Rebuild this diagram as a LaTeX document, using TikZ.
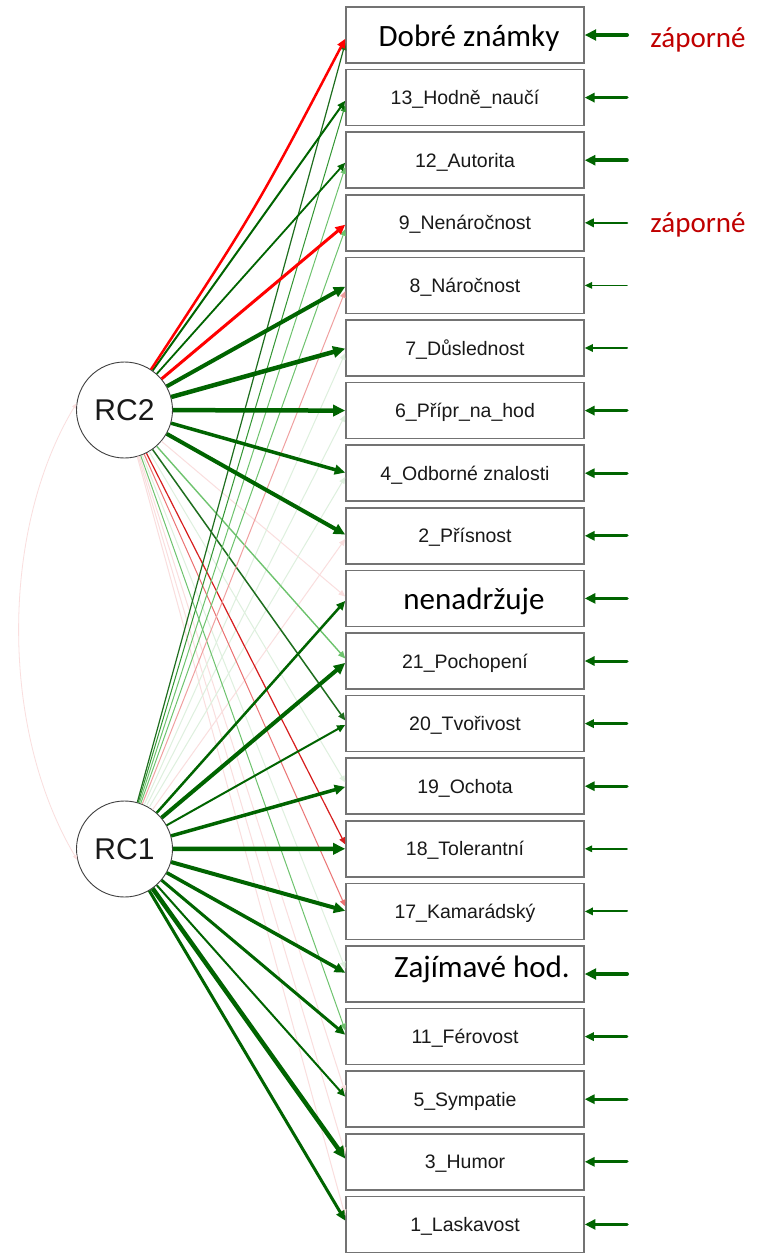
\documentclass[tikz,border=0pt]{standalone}
\usepackage{fontspec}
\newfontfamily\arialf{Liberation Sans}
\newfontfamily\calib{Carlito}
\usetikzlibrary{arrows.meta,calc}
\definecolor{dg}{RGB}{0,100,0}
\definecolor{zred}{RGB}{192,0,0}
\definecolor{pinkfaint}{RGB}{250,222,222}
\definecolor{greenfaint}{RGB}{222,240,222}
\definecolor{lightgreen}{RGB}{110,195,110}
\definecolor{midgreen}{RGB}{50,150,50}
\definecolor{darkmid}{RGB}{30,110,30}
\definecolor{redA}{RGB}{215,30,30}
\definecolor{redB}{RGB}{235,115,115}
\definecolor{pinkB}{RGB}{240,160,160}
\newcommand\ld[4]{%
  \path ($(b#2.west)!0.01!(#1)$) coordinate (t-#1-#2);
  \draw[load, line width=#3pt, draw=#4] (#1) -- (t-#1-#2 -| b#2.west);}
\begin{document}
\begin{tikzpicture}[x=1pt,y=-1pt,
  box/.style={draw=black!55, line width=1.5pt, fill=white, rectangle,
    minimum width=238pt, minimum height=56pt, inner sep=0pt,
    text height=14pt, text depth=0pt,
    font=\arialf\fontsize{19.5}{20}\selectfont, text=black!90},
  fac/.style={draw=black!75, line width=0.9pt, fill=white, circle,
    minimum size=96pt, inner sep=0pt,
    font=\arialf\fontsize{30}{32}\selectfont, text=black!90},
  big/.style={font=\calib\fontsize{31}{33}\selectfont, anchor=base, inner sep=0pt},
  neg/.style={font=\calib\fontsize{29}{31}\selectfont, anchor=base, inner sep=0pt, text=zred},
  load/.style={-{Triangle[length=5pt 1.6,width=4pt 1.6]}},
  resid/.style={draw=dg, line cap=round, -{Triangle[length=5pt 1.6,width=4pt 1.7]}},
]
\useasboundingbox (0,0) rectangle (769,1253);
\fill[white] (0,0) rectangle (769,1253);

% item boxes
\foreach \i/\t in {1/{},2/13\_Hodně\_naučí,3/12\_Autorita,4/9\_Nenáročnost,
  5/8\_Náročnost,6/7\_Důslednost,7/6\_Přípr\_na\_hod,8/4\_Odborné znalosti,
  9/2\_Přísnost,10/{},11/21\_Pochopení,12/20\_Tvořivost,13/19\_Ochota,
  14/18\_Tolerantní,15/17\_Kamarádský,16/{},17/11\_Férovost,18/5\_Sympatie,
  19/3\_Humor,20/1\_Laskavost}{
  \pgfmathsetmacro\yy{35+62.6*(\i-1)}
  \node[box] (b\i) at (465,\yy) {\t};
}
\node[big] (lab1) at (469,46) {Dobré známky};
\node[big] (lab10) at (474,609) {nenadržuje};
\node[big] (lab16) at (482,977) {Zajímavé hod.};

% factors
\node[fac] (rc2) at (124.5,410) {RC2};
\node[fac] (rc1) at (124.5,849) {RC1};

% factor correlation
\draw[pinkfaint, line width=0.8pt, {Triangle[length=5pt,width=4pt]}-{Triangle[length=5pt,width=4pt]}]
  (rc2.172) .. controls (0,530) and (0,730) .. (rc1.193);

% faint loadings
\ld{rc2}{10}{1}{pinkfaint}
\ld{rc2}{13}{1}{greenfaint}
\ld{rc2}{16}{1}{greenfaint}
\ld{rc2}{18}{1}{pinkfaint}
\ld{rc2}{19}{1}{pinkfaint}
\ld{rc2}{20}{1}{pinkfaint}
\ld{rc1}{6}{1}{greenfaint}
\ld{rc1}{7}{1}{greenfaint}
\ld{rc1}{8}{1}{greenfaint}
\ld{rc1}{9}{1}{pinkfaint}
% medium loadings
\ld{rc2}{11}{1.4}{lightgreen}
\ld{rc2}{17}{1}{lightgreen}
\ld{rc2}{15}{1}{redB}
\ld{rc2}{14}{1.2}{redA}
\ld{rc2}{12}{1.5}{darkmid}
\ld{rc1}{5}{1}{pinkB}
\ld{rc1}{4}{1}{lightgreen}
\ld{rc1}{3}{1}{lightgreen}
\ld{rc1}{2}{1}{midgreen}
\ld{rc1}{1}{1.2}{darkmid}
% strong loadings
\ld{rc2}{2}{2}{dg}
\ld{rc2}{3}{1.8}{dg}
\ld{rc2}{4}{3}{red}
\ld{rc2}{5}{4}{dg}
\ld{rc2}{6}{4.5}{dg}
\ld{rc2}{7}{4.5}{dg}
\ld{rc2}{8}{3.5}{dg}
\ld{rc2}{9}{4}{dg}
\path ($(b1.west)!0.01!(rc2)$) coordinate (t-rc2-1);
\draw[load, line width=2.5pt, draw=red] (rc2) .. controls (256,209) .. (t-rc2-1 -| b1.west);
\ld{rc1}{10}{2.5}{dg}
\ld{rc1}{11}{4}{dg}
\ld{rc1}{12}{2}{dg}
\ld{rc1}{13}{3.5}{dg}
\ld{rc1}{14}{4.5}{dg}
\ld{rc1}{15}{4}{dg}
\ld{rc1}{16}{3.5}{dg}
\ld{rc1}{17}{3}{dg}
\ld{rc1}{18}{2}{dg}
\ld{rc1}{19}{4.5}{dg}
\ld{rc1}{20}{3}{dg}

% residual arrows
\foreach \i/\w in {1/4,2/3,3/3.5,4/2.5,5/1.5,6/2,7/3,8/3,9/3,10/3.5,
  11/3,12/2.5,13/3,14/1.5,15/2,16/4,17/2.5,18/3,19/3,20/3.5}{
  \pgfmathsetmacro\yy{35+62.6*(\i-1)}
  \coordinate (r\i) at (627,\yy);
  \draw[resid, line width=\w pt] (r\i) -- (b\i.east);
}

% notes
\node[neg] (neg1) at (698,47) {záporné};
\node[neg] (neg4) at (698,232) {záporné};
\end{tikzpicture}
\end{document}
